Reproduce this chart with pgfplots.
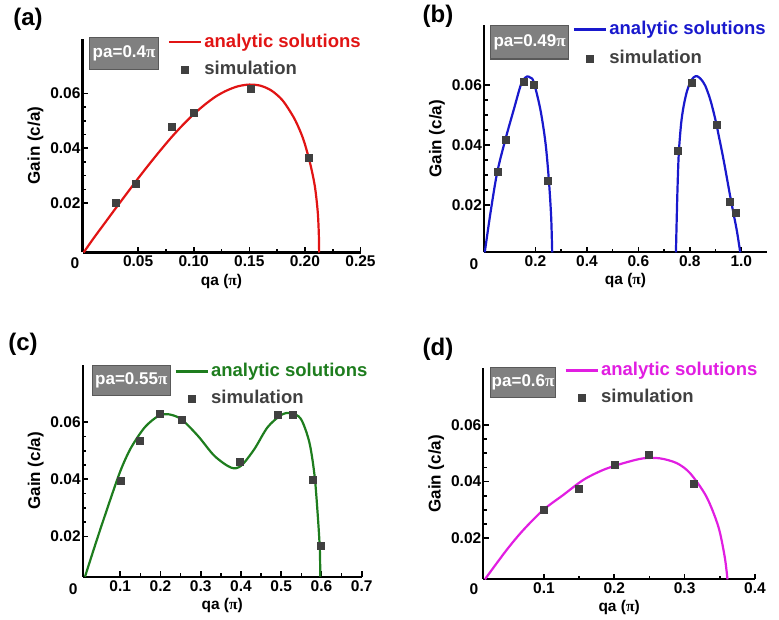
\documentclass[border=0pt]{standalone}
\usepackage{fontspec}
\setmainfont{Liberation Sans}
\newfontfamily\symf{Liberation Serif}
\usepackage{pgfplots}
\pgfplotsset{compat=1.18}

\definecolor{cred}{RGB}{225,20,20}
\definecolor{cblue}{RGB}{25,25,205}
\definecolor{cgreen}{RGB}{30,125,30}
\definecolor{cmag}{RGB}{225,30,225}
\definecolor{simgray}{RGB}{64,64,64}
\definecolor{boxgray}{RGB}{128,128,128}

\newcommand{\pis}{{\symf π}}
\newcommand{\tickfont}{\fontsize{15.5}{17}\selectfont\bfseries}
\newcommand{\xlabfont}{\fontsize{15.5}{17}\selectfont\bfseries}
\newcommand{\ylabfont}{\fontsize{17}{19}\selectfont\bfseries}
\newcommand{\legfont}{\fontsize{18.5}{21}\selectfont\bfseries}
\newcommand{\boxfont}{\fontsize{17}{19}\selectfont\bfseries}
\newcommand{\panfont}{\fontsize{24}{26}\selectfont\bfseries}

\tikzset{pabox/.style={anchor=north west, fill=boxgray, draw=black!65, line width=1.2pt,
    text=white, font=\boxfont, inner sep=0pt}}

\pgfplotsset{
  panel/.style={
    scale only axis, anchor=south west, clip=false,
    axis x line*=bottom, axis y line*=left,
    axis line style={line width=2.2pt},
    tick align=inside, major tick length=5.5pt, minor tick length=3.5pt,
    every tick/.append style={line width=1.6pt, black},
    scaled y ticks=false, scaled x ticks=false,
    ymax=0.08, ytick={0.02,0.04,0.06}, yticklabels={0.02,0.04,0.06},
    minor y tick num=3,
    ticklabel style={font=\tickfont},
    yticklabel style={xshift=1.5pt},
    xlabel={qa (\pis)}, ylabel={Gain (c/a)},
    xlabel style={font=\xlabfont}, ylabel style={font=\ylabfont},
    legend cell align=left,
    legend style={draw=none, fill=none, inner sep=0pt, font=\legfont,
      anchor=north west, at={(rel axis cs:0,1)},
      nodes={inner xsep=2.5pt, inner ysep=0pt, text height=13.5pt, text depth=4pt}},
  },
  curve/.style={line width=2.2pt, smooth, no markers,
    legend image code/.code={\draw[##1] (0pt,0pt) -- (32pt,0pt);}},
  sim/.style={only marks, mark=square*, mark size=3.5pt, color=simgray,
    legend image code/.code={\path[draw=none] (0pt,0pt) -- (32pt,0pt);
      \draw[##1] plot coordinates {(16pt,0pt)};}},
}

\begin{document}
\begin{tikzpicture}
\useasboundingbox (0pt,0pt) rectangle (779pt,619pt);

% (a)
\begin{axis}[panel, at={(82.5pt,366.5pt)}, width=278pt, height=214pt,
  xmin=0, xmax=0.25, ymin=0.002,
  xtick={0.05,0.10,0.15,0.20,0.25}, xticklabels={0.05,0.10,0.15,0.20,0.25},
  minor x tick num=1,
  legend style={xshift=85pt, yshift=5.1pt, row sep=10pt}]
\addplot[curve, cred] coordinates {
(0.001,0.0020) (0.010,0.0072) (0.020,0.0127) (0.030,0.0182) (0.040,0.0236)
(0.050,0.0290) (0.060,0.0342) (0.070,0.0392) (0.080,0.0440) (0.090,0.0484)
(0.100,0.0524) (0.110,0.0559) (0.120,0.0589) (0.130,0.0611) (0.140,0.0626)
(0.150,0.0632) (0.160,0.0628) (0.170,0.0610) (0.180,0.0574) (0.190,0.0512)
(0.196,0.0460) (0.200,0.0415) (0.205,0.0340) (0.209,0.0260) (0.2115,0.0170)
(0.2125,0.0090) (0.2128,0.0020)};
\addlegendentry{\textcolor{cred}{analytic solutions}}
\addplot[sim] coordinates {
(0.030,0.0200) (0.048,0.0272) (0.080,0.0478) (0.100,0.0528) (0.151,0.0618) (0.203,0.0365)};
\addlegendentry{\textcolor{simgray}{simulation}}
\node[pabox, minimum width=69pt, minimum height=32pt, xshift=6.5pt, yshift=1.3pt]
  at (rel axis cs:0,1) {pa=0.4\pis};
\node[font=\panfont, xshift=-54.5pt, yshift=19.3pt] at (rel axis cs:0,1) {(a)};
\node[font=\tickfont, xshift=-7.5pt, yshift=-10.8pt] at (rel axis cs:0,0) {0};
\end{axis}

% (b)
\begin{axis}[panel, at={(484pt,366.7pt)}, width=283pt, height=227pt,
  xmin=0, xmax=1.1, ymin=0.0041,
  xtick={0.2,0.4,0.6,0.8,1.0}, xticklabels={0.2,0.4,0.6,0.8,1.0},
  minor x tick num=1,
  legend style={xshift=88.5pt, yshift=4.8pt, row sep=12pt}]
\addplot[curve, cblue] coordinates {
(0.003,0.0041) (0.025,0.0172) (0.051,0.0307) (0.083,0.0418) (0.116,0.0519)
(0.142,0.0598) (0.155,0.0620) (0.168,0.0629) (0.180,0.0625) (0.193,0.0611)
(0.219,0.0519) (0.239,0.0407) (0.252,0.0284) (0.261,0.0160) (0.265,0.0041)};
\addlegendentry{\textcolor{cblue}{analytic solutions}}
\addplot[sim] coordinates {
(0.054,0.0312) (0.083,0.0416) (0.155,0.0611) (0.193,0.0603) (0.248,0.0281)
(0.753,0.0382) (0.806,0.0609) (0.903,0.0469) (0.955,0.0209) (0.977,0.0172)};
\addlegendentry{\textcolor{simgray}{simulation}}
\addplot[curve, cblue, forget plot] coordinates {
(0.746,0.0041) (0.749,0.0150) (0.752,0.0250) (0.757,0.0370) (0.766,0.0470)
(0.776,0.0530) (0.789,0.0580) (0.802,0.0610) (0.815,0.0626) (0.828,0.0630)
(0.843,0.0620) (0.860,0.0598) (0.880,0.0550) (0.899,0.0486) (0.915,0.0420)
(0.931,0.0351) (0.944,0.0290) (0.957,0.0228) (0.970,0.0170) (0.983,0.0112)
(0.996,0.0041)};
\node[pabox, minimum width=78pt, minimum height=33pt, xshift=6pt, yshift=0pt]
  at (rel axis cs:0,1) {pa=0.49\pis};
\node[font=\panfont, xshift=-46pt, yshift=9.3pt] at (rel axis cs:0,1) {(b)};
\node[font=\tickfont, xshift=-10pt, yshift=-12pt] at (rel axis cs:0,0) {0};
\end{axis}

% (c)
\begin{axis}[panel, at={(82.7pt,42.3pt)}, width=279pt, height=211.7pt,
  xmin=0.0067, xmax=0.7, ymin=0.0059,
  xtick={0.1,0.2,0.3,0.4,0.5,0.6,0.7}, xticklabels={0.1,0.2,0.3,0.4,0.5,0.6,0.7},
  minor x tick num=1,
  legend style={xshift=91.5pt, yshift=2.5pt, row sep=9.8pt}]
\addplot[curve, cgreen] coordinates {
(0.0124,0.0059) (0.0446,0.0200) (0.078,0.0340) (0.102,0.0435) (0.127,0.0511)
(0.161,0.0582) (0.194,0.0621) (0.218,0.0628) (0.251,0.0611) (0.293,0.0552)
(0.334,0.0482) (0.375,0.0441) (0.400,0.0447) (0.433,0.0505) (0.466,0.0582)
(0.500,0.0625) (0.524,0.0632) (0.549,0.0611) (0.570,0.0529) (0.583,0.0411)
(0.591,0.0270) (0.596,0.0153) (0.597,0.0059)};
\addlegendentry{\textcolor{cgreen}{analytic solutions}}
\addplot[sim] coordinates {
(0.101,0.0394) (0.149,0.0535) (0.199,0.0629) (0.253,0.0608) (0.397,0.0461)
(0.492,0.0625) (0.529,0.0625) (0.577,0.0397) (0.597,0.0167)};
\addlegendentry{\textcolor{simgray}{simulation}}
\node[pabox, minimum width=78pt, minimum height=30pt, xshift=9pt, yshift=0pt]
  at (rel axis cs:0,1) {pa=0.55\pis};
\node[font=\panfont, xshift=-59.7pt, yshift=21pt] at (rel axis cs:0,1) {(c)};
\node[font=\tickfont, xshift=-9.4pt, yshift=-12.6pt] at (rel axis cs:0,0) {0};
\end{axis}

% (d)
\begin{axis}[panel, at={(483.3pt,39.7pt)}, width=271.6pt, height=211pt,
  xmin=0.0137, xmax=0.4, ymin=0.0055,
  xtick={0.1,0.2,0.3,0.4}, xticklabels={0.1,0.2,0.3,0.4},
  minor x tick num=1,
  legend style={xshift=80.9pt, yshift=6.8pt, row sep=9.8pt}]
\addplot[curve, cmag] coordinates {
(0.016,0.0055) (0.047,0.0159) (0.0706,0.0229) (0.099,0.0300) (0.1275,0.0353)
(0.156,0.0406) (0.184,0.0441) (0.213,0.0465) (0.241,0.0482) (0.265,0.0482)
(0.289,0.0465) (0.308,0.0429) (0.331,0.0347) (0.348,0.0241) (0.357,0.0135)
(0.361,0.0055)};
\addlegendentry{\textcolor{cmag}{analytic solutions}}
\addplot[sim] coordinates {
(0.099,0.0302) (0.150,0.0376) (0.201,0.0461) (0.249,0.0494) (0.313,0.0394)};
\addlegendentry{\textcolor{simgray}{simulation}}
\node[pabox, minimum width=65pt, minimum height=30pt, xshift=6.7pt, yshift=1.3pt]
  at (rel axis cs:0,1) {pa=0.6\pis};
\node[font=\panfont, xshift=-45.3pt, yshift=19.3pt] at (rel axis cs:0,1) {(d)};
\node[font=\tickfont, xshift=-9.3pt, yshift=-10pt] at (rel axis cs:0,0) {0};
\end{axis}
\end{tikzpicture}
\end{document}
